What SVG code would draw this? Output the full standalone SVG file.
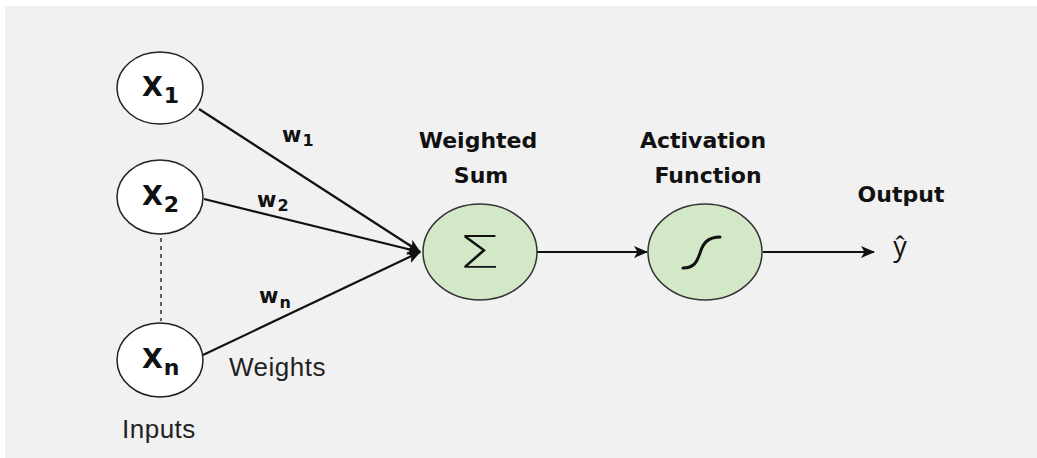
<svg xmlns="http://www.w3.org/2000/svg" width="1037" height="458" viewBox="0 0 1037 458">
<style>
.in{fill:#ffffff;stroke:#222;stroke-width:1.5}
.op{fill:#d3e8c6;stroke:#333;stroke-width:1.5}
.xl{font-family:"DejaVu Sans",sans-serif;font-weight:bold;fill:#111}
.wl{font-family:"DejaVu Sans",sans-serif;font-weight:bold;fill:#111;font-size:21px}
.hd{font-family:"DejaVu Sans",sans-serif;font-weight:bold;fill:#111;font-size:22px;text-anchor:middle}
.rg{font-family:"Liberation Sans",Arial,sans-serif;fill:#222;font-size:26px;letter-spacing:0.5px}
.cn{stroke:#111;stroke-width:2.2;fill:none}
</style>
<defs>
<marker id="ah" viewBox="0 0 14 12" refX="13" refY="6" markerWidth="14" markerHeight="12" markerUnits="userSpaceOnUse" orient="auto">
<path d="M0,0 L14,6 L0,12 L3.5,6 Z" fill="#111"/>
</marker>
</defs>
<rect x="0" y="0" width="1037" height="458" fill="#ffffff"/>
<rect x="5" y="6" width="1032" height="452" fill="#f1f1f1"/>
<g id="connectors">
<line class="cn" x1="199" y1="109" x2="420" y2="252" marker-end="url(#ah)"/>
<line class="cn" x1="204" y1="199" x2="420" y2="252" marker-end="url(#ah)"/>
<line class="cn" x1="203" y1="355" x2="420" y2="252" marker-end="url(#ah)"/>
<line class="cn" x1="161" y1="238" x2="161" y2="321" stroke-dasharray="4,4" style="stroke-width:1.3"/>
<line class="cn" x1="537" y1="252" x2="647" y2="252" marker-end="url(#ah)"/>
<line class="cn" x1="763" y1="252" x2="874" y2="252" marker-end="url(#ah)"/>
</g>
<g id="node-x1">
<ellipse class="in" cx="160" cy="88" rx="43" ry="36"/>
<text class="xl" x="142" y="96" font-size="27">X<tspan font-size="22" dx="1" dy="7">1</tspan></text>
</g>
<g id="node-x2">
<ellipse class="in" cx="160" cy="197" rx="43" ry="37"/>
<text class="xl" x="142" y="205" font-size="27">X<tspan font-size="22" dx="1" dy="7">2</tspan></text>
</g>
<g id="node-xn">
<ellipse class="in" cx="160" cy="360" rx="43" ry="37"/>
<text class="xl" x="142" y="368" font-size="27">X<tspan font-size="22" dx="1" dy="7">n</tspan></text>
</g>
<g id="weights">
<text class="wl" x="282" y="142">w<tspan font-size="16" dx="1" dy="4">1</tspan></text>
<text class="wl" x="257" y="207">w<tspan font-size="16" dx="1" dy="4">2</tspan></text>
<text class="wl" x="259" y="303">w<tspan font-size="16" dx="1" dy="5">n</tspan></text>
<text class="rg" x="229" y="376">Weights</text>
</g>
<g id="inputs-label">
<text class="rg" x="122" y="438">Inputs</text>
</g>
<g id="node-sum">
<text class="hd" x="478" y="148">Weighted</text>
<text class="hd" x="481" y="183">Sum</text>
<ellipse class="op" cx="480" cy="252" rx="57" ry="48"/>
<text transform="translate(479,268) scale(1.5,1)" x="0" y="0" font-family="'DejaVu Sans',sans-serif" font-weight="200" font-size="45" text-anchor="middle" fill="#111">Σ</text>
</g>
<g id="node-activation">
<text class="hd" x="703" y="148">Activation</text>
<text class="hd" x="708" y="183">Function</text>
<ellipse class="op" cx="705" cy="252" rx="57" ry="48"/>
<path d="M683,268 C694,268 697,262 700,253 C703,243 708,237 720,237" stroke="#111" stroke-width="3" fill="none" stroke-linecap="round"/>
</g>
<g id="node-output">
<text class="hd" x="901" y="202">Output</text>
<text x="900" y="256" font-family="'Open Sans','DejaVu Sans',sans-serif" font-size="27" text-anchor="middle" fill="#111">ŷ</text>
</g>
</svg>
